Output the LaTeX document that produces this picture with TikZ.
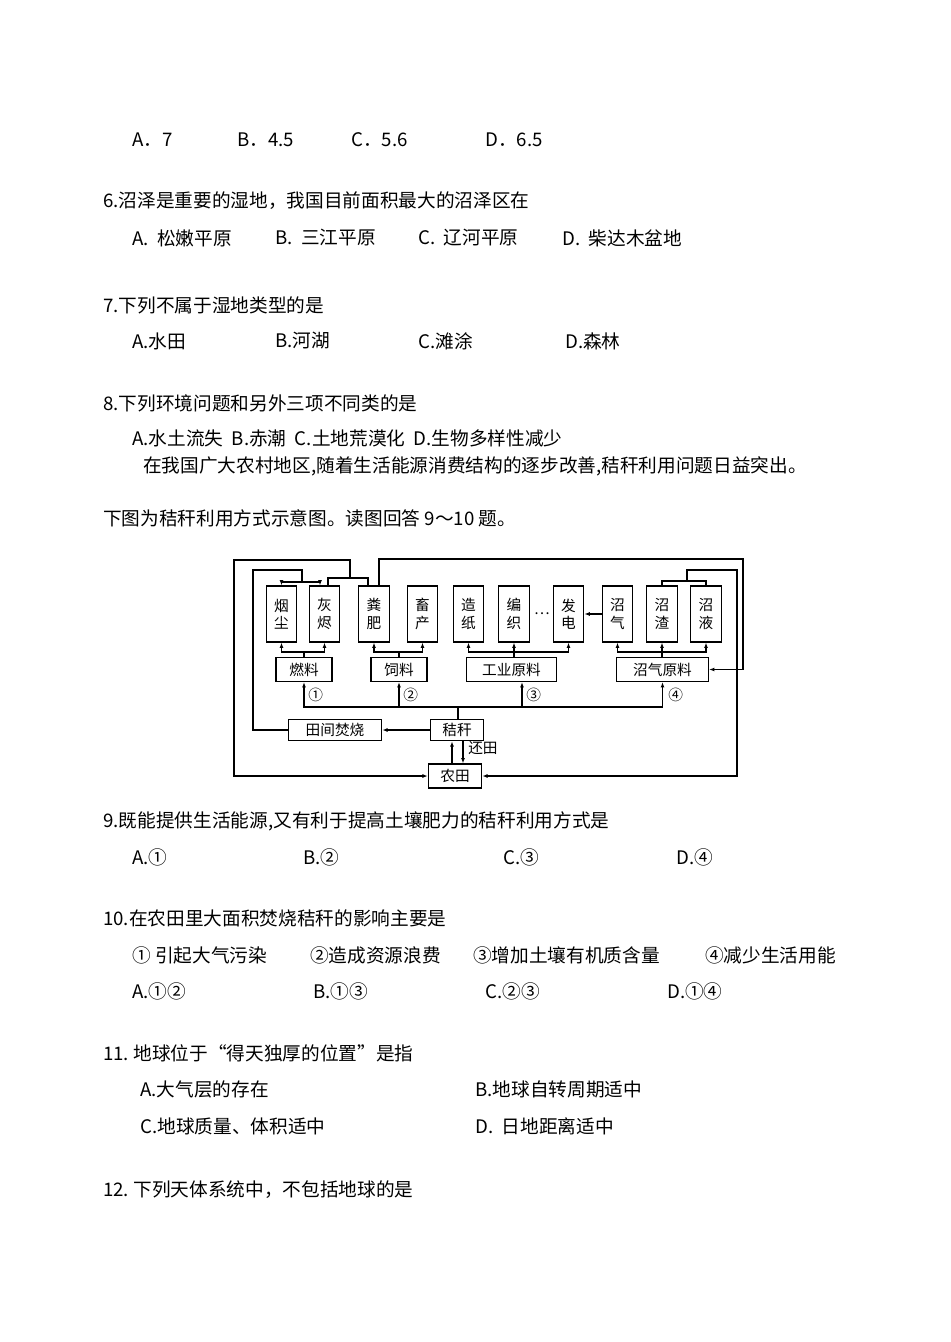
\documentclass[tikz,border=0pt]{standalone}
\usepackage{fontspec}
\setmainfont{Noto Sans CJK SC}
\usetikzlibrary{arrows.meta}
\begin{document}
\begin{tikzpicture}[x=0.75pt,y=-0.75pt,
 txt/.style={anchor=west,inner sep=0pt,font=\fontsize{14}{17}\selectfont},
 vbox/.style={draw,line width=0.9pt,minimum width=23,minimum height=42,inner sep=0pt,align=center,font=\fontsize{11}{13}\selectfont},
 hbox/.style={draw,line width=0.9pt,minimum height=18,inner sep=1pt,font=\fontsize{11}{13}\selectfont},
 ln/.style={line width=0.8pt},
 arr/.style={line width=0.8pt,-{Latex[length=4pt,width=3pt]}},
 lab/.style={anchor=west,inner sep=0pt,font=\fontsize{11}{13}\selectfont}]
\useasboundingbox (0,0) rectangle (950,1342);
\fill[white] (0,0) rectangle (950,1342);
% text
\node[txt] (t1a) at (132,140) {A．7};
\node[txt] (t1b) at (237,140) {B．4.5};
\node[txt] (t1c) at (351,140) {C．5.6};
\node[txt] (t1d) at (485,140) {D．6.5};
\node[txt] (q6) at (103,201) {6.沼泽是重要的湿地，我国目前面积最大的沼泽区在};
\node[txt] (q6a) at (132,238) {A.\ \ 松嫩平原};
\node[txt] (q6b) at (275,238) {B.\ \ 三江平原};
\node[txt] (q6c) at (418,238) {C.\ \ 辽河平原};
\node[txt] (q6d) at (562,238) {D.\ \ 柴达木盆地};
\node[txt] (q7) at (103,305) {7.下列不属于湿地类型的是};
\node[txt] (q7a) at (132,341) {A.水田};
\node[txt] (q7b) at (275,341) {B.河湖};
\node[txt] (q7c) at (418,341) {C.滩涂};
\node[txt] (q7d) at (565,341) {D.森林};
\node[txt] (q8) at (103,403) {8.下列环境问题和另外三项不同类的是};
\node[txt] (q8a) at (132,438) {A.水土流失\ \ B.赤潮\ \ C.土地荒漠化\ \ D.生物多样性减少};
\node[txt] (p1) at (143,466) {在我国广大农村地区,随着生活能源消费结构的逐步改善,秸秆利用问题日益突出。};
\node[txt] (p2) at (103,518) {下图为秸秆利用方式示意图。读图回答 9～10 题。};
\node[txt] (q9) at (103,821) {9.既能提供生活能源,又有利于提高土壤肥力的秸秆利用方式是};
\node[txt] (q9a) at (132,857) {A.①};
\node[txt] (q9b) at (303,857) {B.②};
\node[txt] (q9c) at (503,857) {C.③};
\node[txt] (q9d) at (676,857) {D.④};
\node[txt] (q10) at (103,918) {10.在农田里大面积焚烧秸秆的影响主要是};
\node[txt] (q10o1) at (132,955) {① 引起大气污染};
\node[txt] (q10o2) at (310,955) {②造成资源浪费};
\node[txt] (q10o3) at (473,955) {③增加土壤有机质含量};
\node[txt] (q10o4) at (705,955) {④减少生活用能};
\node[txt] (q10a) at (132,991) {A.①②};
\node[txt] (q10b) at (313,991) {B.①③};
\node[txt] (q10c) at (485,991) {C.②③};
\node[txt] (q10d) at (667,991) {D.①④};
\node[txt] (q11) at (103,1053) {11.\ 地球位于“得天独厚的位置”是指};
\node[txt] (q11a) at (140,1089) {A.大气层的存在};
\node[txt] (q11b) at (475,1089) {B.地球自转周期适中};
\node[txt] (q11c) at (140,1126) {C.地球质量、体积适中};
\node[txt] (q11d) at (475,1126) {D.\ \ 日地距离适中};
\node[txt] (q12) at (103,1190) {12.\ 下列天体系统中，不包括地球的是};
% diagram boxes
\node[vbox] (yc) at (281.5,614) {烟\\尘};
\node[vbox] (hj) at (324.5,614) {灰\\烬};
\node[vbox] (ff) at (374,614) {粪\\肥};
\node[vbox] (xc) at (422.5,614) {畜\\产};
\node[vbox] (zz) at (468.5,614) {造\\纸};
\node[vbox] (bz) at (514,614) {编\\织};
\node[lab,anchor=center] (dots) at (542,614) {…};
\node[vbox] (fd) at (568.5,614) {发\\电};
\node[vbox] (zq) at (617.5,614) {沼\\气};
\node[vbox] (zzh) at (662,614) {沼\\渣};
\node[vbox] (zy) at (706,614) {沼\\液};
\node[hbox,minimum width=42] (rl) at (304,669.5) {燃料};
\node[hbox,minimum width=42] (sl) at (399,669.5) {饲料};
\node[hbox,minimum width=67] (gy) at (511.5,669.5) {工业原料};
\node[hbox,minimum width=69] (zqy) at (662.5,669.5) {沼气原料};
\node[hbox,minimum width=40,minimum height=16] (jg) at (457,730) {秸秆};
\node[hbox,minimum width=70,minimum height=16] (tj) at (335,730) {田间焚烧};
\node[hbox,minimum width=40] (nt) at (455,776) {农田};
% branches up from middle boxes
\coordinate (j1) at (304,652);
\draw[ln] (rl.north) -- (j1);
\draw[arr] (j1) -| (yc.south);
\draw[arr] (j1) -| (hj.south);
\coordinate (j2) at (399,652);
\draw[ln] (sl.north) -- (j2);
\draw[arr] (j2) -| (ff.south);
\draw[arr] (j2) -| (xc.south);
\coordinate (j3) at (514,652);
\draw[ln] (gy.north -| j3) -- (j3);
\draw[arr] (j3) -| (zz.south);
\draw[arr] (j3) -- (bz.south);
\draw[arr] (j3) -| (fd.south);
\coordinate (j4) at (662,652);
\draw[ln] (zqy.north -| j4) -- (j4);
\draw[arr] (j4) -| (zq.south);
\draw[arr] (j4) -- (zzh.south);
\draw[arr] (j4) -| (zy.south);
\draw[arr] (zq.west) -- (fd.east);
% bus
\coordinate (bus) at (458,707);
\draw[ln] (jg.north -| bus) -- (bus);
\draw[arr] (bus) -| (rl.south);
\draw[arr] (bus) -| (sl.south);
\draw[arr] (bus) -| (gy.south -| 522,0);
\draw[arr] (bus) -| (zqy.south);
\node[lab] (n1) at (308,695) {①};
\node[lab] (n2) at (403,695) {②};
\node[lab] (n3) at (526,695) {③};
\node[lab] (n4) at (668,695) {④};
% straw
\draw[arr] (jg.west) -- (tj.east);
\draw[arr] (nt.north -| 452,0) -- (jg.south -| 452,0);
\draw[arr] (jg.south -| 463,0) -- (nt.north -| 463,0);
\node[lab] (ht) at (468,748) {还田};
% burning to smoke/ash
\coordinate (b1) at (253,570);
\coordinate (b2) at (302,582);
\draw[ln] (tj.west) -| (b1) -| (b2);
\draw[arr] (b2) -| (yc.north);
\draw[arr] (b2) -| (hj.north -| 320,0);
% ash & manure back to field
\coordinate (c1) at (350,578);
\coordinate (c2) at (234,560);
\draw[ln] (hj.north -| 328,0) |- (c1) -| (ff.north -| 368,0);
\draw[arr] (c1) |- (c2) |- (nt.west);
% manure to biogas
\coordinate (d1) at (743,559);
\draw[arr] (ff.north -| 379,0) |- (d1) |- (zqy.east);
% residue to field
\coordinate (e1) at (687,581);
\coordinate (e2) at (737,570);
\draw[ln] (zzh.north) |- (e1) -| (zy.north);
\draw[arr] (e1) |- (e2) |- (nt.east);
\end{tikzpicture}
\end{document}
